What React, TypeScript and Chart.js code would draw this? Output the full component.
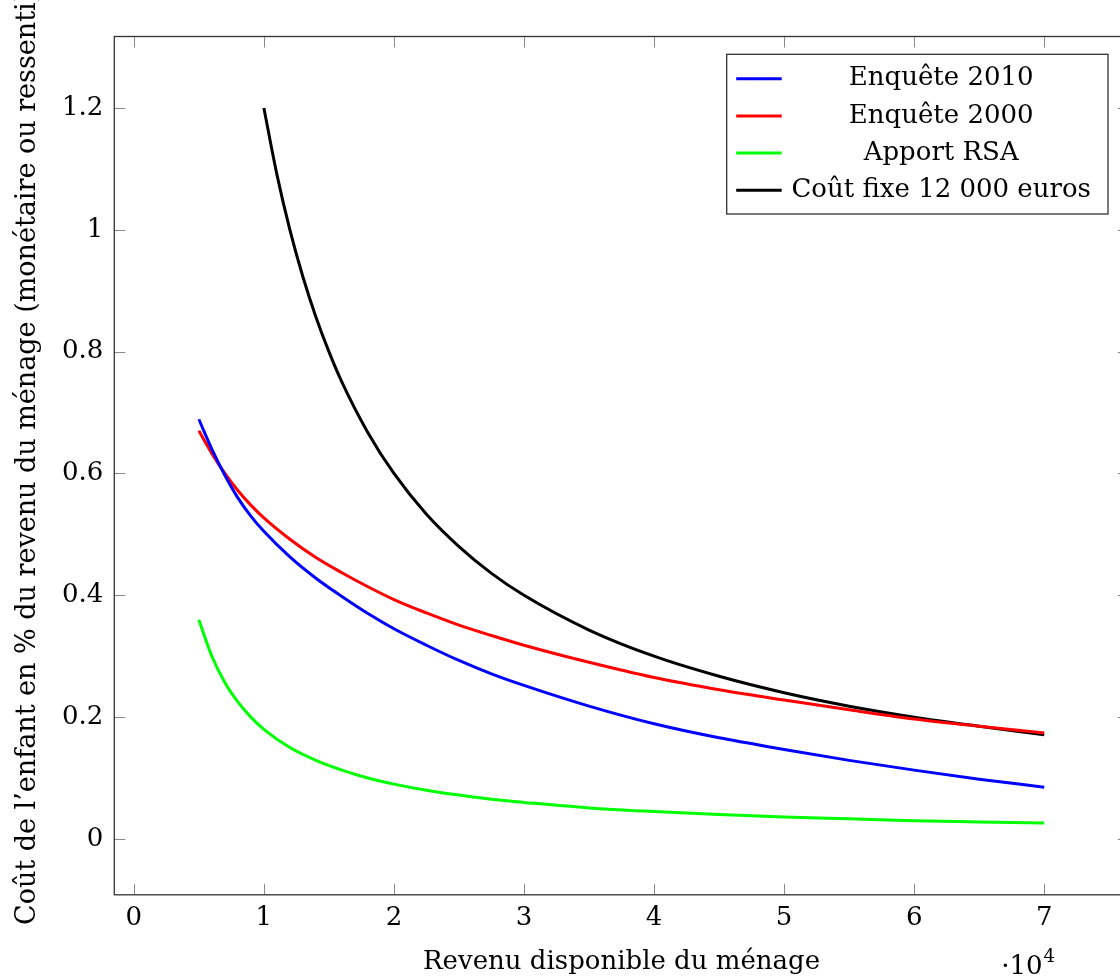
import { useEffect, useRef } from "react";
import { Chart, registerables } from "chart.js";

Chart.register(...registerables);

// ---- data ----
const incomeX = [5000, 6000, 7000, 8000, 9000, 10000, 12000, 14000, 16000, 18000, 20000, 22500, 25000, 27500, 30000, 35000, 40000, 45000, 50000, 55000, 60000, 65000, 70000];
const enquete2010 = [0.689, 0.64, 0.597, 0.56, 0.53, 0.505, 0.463, 0.428, 0.398, 0.37, 0.345, 0.318, 0.293, 0.271, 0.252, 0.218, 0.189, 0.166, 0.147, 0.129, 0.113, 0.098, 0.085];
const enquete2000 = [0.67, 0.633, 0.6, 0.572, 0.548, 0.527, 0.492, 0.462, 0.437, 0.414, 0.393, 0.371, 0.351, 0.334, 0.318, 0.29, 0.265, 0.245, 0.228, 0.212, 0.197, 0.185, 0.174];
const apportRSA = [0.36, 0.3, 0.257, 0.225, 0.2, 0.18, 0.15, 0.129, 0.113, 0.1, 0.09, 0.08, 0.072, 0.065, 0.06, 0.051, 0.045, 0.04, 0.036, 0.033, 0.03, 0.028, 0.026];
const fixedCostX = [10000, 11000, 12000, 13000, 14000, 15000, 16000, 18000, 20000, 22500, 25000, 27500, 30000, 35000, 40000, 45000, 50000, 55000, 60000, 65000, 70000];
const coutFixe = [1.2, 1.091, 1.0, 0.923, 0.857, 0.8, 0.75, 0.667, 0.6, 0.533, 0.48, 0.436, 0.4, 0.343, 0.3, 0.267, 0.24, 0.218, 0.2, 0.185, 0.171];

const seriesLabels = ["Enquête 2010", "Enquête 2000", "Apport RSA", "Coût fixe 12 000 euros"];
const seriesColors = ["#0000ff", "#ff0000", "#00ff00", "#000000"];

const xTicks = [0, 10000, 20000, 30000, 40000, 50000, 60000, 70000];
const yTicks = [0, 0.2, 0.4, 0.6, 0.8, 1, 1.2];

const xTitle = "Revenu disponible du ménage";
const yTitle = "Coût de l’enfant en % du revenu du ménage (monétaire ou ressenti)";

const FONT = "'DejaVu Serif', 'Liberation Serif', serif";

const pairs = (xs: number[], ys: number[]) => xs.map((x, i) => ({ x, y: ys[i] }));

const framePlugin = {
  id: "pgfFrame",
  afterDraw(chart: any) {
    const ctx = chart.ctx as CanvasRenderingContext2D;
    const { left, right, top, bottom } = chart.chartArea;
    const xs = chart.scales.x;
    const ys = chart.scales.y;
    ctx.save();
    // inner ticks (pgfplots style, on all four sides)
    ctx.strokeStyle = "#8a8a8a";
    ctx.lineWidth = 1;
    const tl = 11;
    ctx.beginPath();
    for (const v of xTicks) {
      const p = Math.round(xs.getPixelForValue(v)) + 0.5;
      ctx.moveTo(p, bottom);
      ctx.lineTo(p, bottom - tl);
      ctx.moveTo(p, top);
      ctx.lineTo(p, top + tl);
    }
    for (const v of yTicks) {
      const p = Math.round(ys.getPixelForValue(v)) + 0.5;
      ctx.moveTo(left, p);
      ctx.lineTo(left + tl, p);
      ctx.moveTo(right, p);
      ctx.lineTo(right - tl, p);
    }
    ctx.stroke();
    // frame
    ctx.strokeStyle = "#333333";
    ctx.lineWidth = 1.3;
    ctx.strokeRect(left, top, right - left, bottom - top);

    // y axis title (rotated)
    ctx.save();
    ctx.translate(35, 925);
    ctx.rotate(-Math.PI / 2);
    ctx.fillStyle = "#000";
    ctx.font = `27px ${FONT}`;
    ctx.textAlign = "left";
    ctx.textBaseline = "alphabetic";
    ctx.fillText(yTitle, 0, 0);
    ctx.restore();

    // legend
    const bx = right - 402.1;
    const by = top + 17.8;
    const bw = 381.3;
    const bh = 159.7;
    ctx.fillStyle = "#ffffff";
    ctx.fillRect(bx, by, bw, bh);
    ctx.strokeStyle = "#333333";
    ctx.lineWidth = 1.3;
    ctx.strokeRect(bx, by, bw, bh);
    const rowH = 37.2;
    chart.data.datasets.forEach((ds: any, i: number) => {
      const cy = by + 24.4 + i * rowH;
      ctx.strokeStyle = ds.borderColor;
      ctx.lineWidth = 3;
      ctx.beginPath();
      ctx.moveTo(bx + 9.5, cy);
      ctx.lineTo(bx + 55, cy);
      ctx.stroke();
      ctx.fillStyle = "#000";
      ctx.font = `26px ${FONT}`;
      ctx.textAlign = "center";
      ctx.textBaseline = "middle";
      ctx.fillText(ds.label, bx + 214.5, cy);
    });

    // ·10^4 scale label
    const px7 = xs.getPixelForValue(70000);
    ctx.fillStyle = "#000";
    ctx.textAlign = "left";
    ctx.textBaseline = "alphabetic";
    ctx.font = `26px ${FONT}`;
    const base = "·10";
    ctx.fillText(base, px7 - 43, 974);
    const w = ctx.measureText(base).width;
    ctx.font = `18px ${FONT}`;
    ctx.fillText("4", px7 - 43 + w + 1, 962);
    ctx.restore();
  },
};

export default function App() {
  const ref = useRef<HTMLCanvasElement>(null);
  useEffect(() => {
    const canvas = ref.current;
    if (!canvas) return;
    const chart = new Chart(canvas, {
      type: "line",
      data: {
        datasets: [
          { label: seriesLabels[0], data: pairs(incomeX, enquete2010), borderColor: seriesColors[0] },
          { label: seriesLabels[1], data: pairs(incomeX, enquete2000), borderColor: seriesColors[1] },
          { label: seriesLabels[2], data: pairs(incomeX, apportRSA), borderColor: seriesColors[2] },
          { label: seriesLabels[3], data: pairs(fixedCostX, coutFixe), borderColor: seriesColors[3] },
        ].map((d) => ({
          ...d,
          borderWidth: 3,
          pointRadius: 0,
          fill: false,
          cubicInterpolationMode: "monotone" as const,
          backgroundColor: d.borderColor,
        })),
      },
      options: {
        animation: false,
        responsive: false,
        maintainAspectRatio: false,
        layout: { padding: { left: 0, top: 36.5, right: 21.2, bottom: 0 } },
        plugins: { legend: { display: false }, tooltip: { enabled: false } },
        scales: {
          x: {
            type: "linear",
            min: -1500,
            max: 76500,
            grid: { display: false, drawTicks: false },
            border: { display: false },
            afterBuildTicks: (s: any) => {
              s.ticks = xTicks.map((v) => ({ value: v }));
            },
            afterFit: (s: any) => {
              s.height = 83.2;
            },
            ticks: {
              color: "#000",
              padding: 8,
              font: { family: FONT, size: 26 },
              maxRotation: 0,
              callback: (v: any) => String(Math.round(Number(v) / 1000) / 10),
            },
            title: {
              display: true,
              text: xTitle,
              color: "#000",
              font: { family: FONT, size: 26, lineHeight: 1.2 },
              padding: { top: 0, bottom: 0 },
            },
          },
          y: {
            type: "linear",
            min: -0.0917,
            max: 1.3174,
            grid: { display: false, drawTicks: false },
            border: { display: false },
            afterBuildTicks: (s: any) => {
              s.ticks = yTicks.map((v) => ({ value: v }));
            },
            afterFit: (s: any) => {
              s.width = 114.3;
            },
            ticks: {
              color: "#000",
              padding: 11,
              font: { family: FONT, size: 26 },
              callback: (v: any) => String(Math.round(Number(v) * 10) / 10),
            },
          },
        },
      },
      plugins: [framePlugin],
    });
    return () => chart.destroy();
  }, []);

  return (
    <div
      style={{
        position: "fixed",
        left: 0,
        top: 0,
        width: 1120,
        height: 978,
        overflow: "hidden",
        background: "#ffffff",
      }}
    >
      <canvas ref={ref} width={1150} height={978} style={{ display: "block", width: 1150, height: 978 }} />
    </div>
  );
}
